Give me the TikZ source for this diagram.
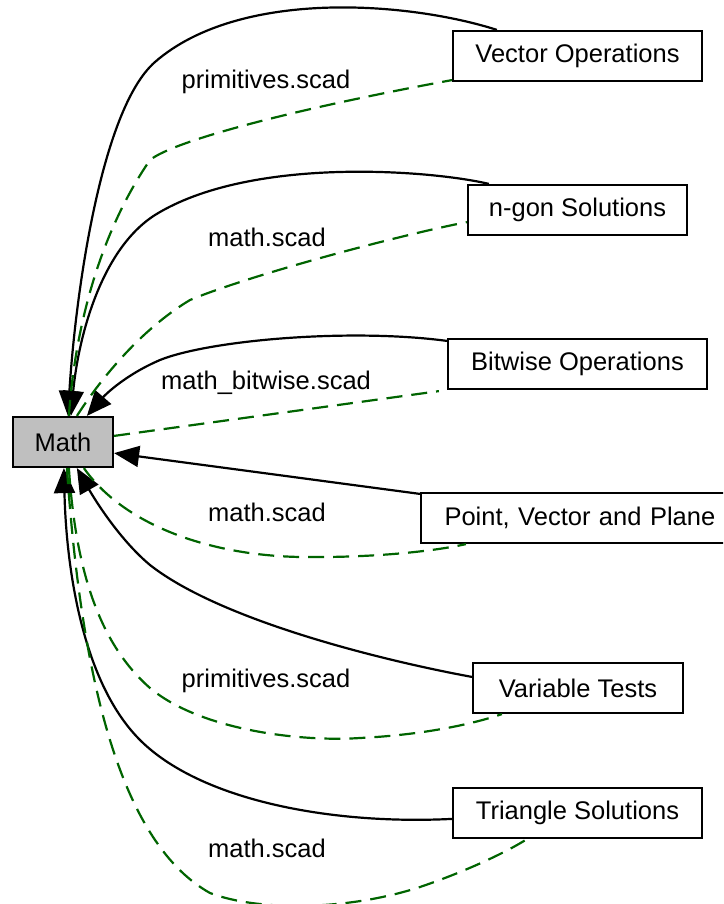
\documentclass[tikz,border=0pt]{standalone}
\usepackage{fontspec}
\setmainfont{Liberation Sans}
\usetikzlibrary{arrows.meta,calc}
\definecolor{dgreen}{HTML}{006400}
\definecolor{mgray}{HTML}{BFBFBF}
\begin{document}
\begin{tikzpicture}[x=0.5pt,y=-0.5pt,
  box/.style={draw, line width=1.1pt, inner sep=0pt, minimum height=25pt, font=\fontsize{12.75}{15}\selectfont, fill=white},
  lbl/.style={inner sep=0pt, font=\fontsize{12.75}{15}\selectfont},
  dep/.style={draw, line width=1.1pt, -{Triangle[width=10.5pt,length=12.5pt]}},
  fileedge/.style={draw=dgreen, line width=1.1pt, dash pattern=on 8pt off 4.5pt}]
\useasboundingbox (0,0) rectangle (723,904);
\clip (0,0) rectangle (723,904);

% nodes
\node[box, fill=mgray, minimum width=50pt] (math) at (63,442) {Math};
\node[box, minimum width=124.5pt] (vec) at (577.5,56) {Vector Operations};
\node[box, minimum width=109.5pt] (ngon) at (577.5,210) {n-gon Solutions};
\node[box, minimum width=129.5pt] (bit) at (577.5,364) {Bitwise Operations};
\node[box, minimum width=152.5pt, text width=150pt, align=left] (pvp) at (573.5,518) {\hspace*{10.5pt}Point, Vector and Plane};
\node[box, minimum width=105pt] (var) at (578,688) {Variable Tests};
\node[box, minimum width=124.5pt] (tri) at (577.5,813) {Triangle Solutions};

% labels
\node[lbl] (l1) at (266,82) {primitives.scad};
\node[lbl] (l2) at (267,237) {math.scad};
\node[lbl] (l3) at (266,383) {math\_bitwise.scad};
\node[lbl] (l4) at (267,512) {math.scad};
\node[lbl] (l5) at (266,681) {primitives.scad};
\node[lbl] (l6) at (267,848) {math.scad};

% endpoints on Math
\coordinate (m1) at ($(math.north west)+(56,0)$);
\coordinate (m2) at ($(math.north west)+(59,0)$);
\coordinate (m3) at ($(math.north west)+(75,0)$);
\coordinate (m4) at ($(math.south east)+(0,-15)$);
\coordinate (m5) at ($(math.south west)+(65,0)$);
\coordinate (m6) at ($(math.south west)+(52,0)$);
\coordinate (n1) at ($(math.north west)+(57,0)$);
\coordinate (n2) at ($(math.north west)+(65,0)$);
\coordinate (n3) at ($(math.north east)+(0,20)$);
\coordinate (n4) at ($(math.south west)+(72,0)$);
\coordinate (n5) at ($(math.south west)+(57,0)$);
\coordinate (n6) at ($(math.south west)+(55,0)$);
% endpoints on the groups
\coordinate (v1) at ($(vec.north west)+(45,0)$);
\coordinate (w1) at ($(vec.south west)+(0,-2)$);
\coordinate (v2) at ($(ngon.north west)+(22,0)$);
\coordinate (w2) at ($(ngon.south west)+(0,-14)$);
\coordinate (v3) at ($(bit.north west)+(0,3)$);
\coordinate (w3) at ($(bit.south west)+(-8,1)$);
\coordinate (v4) at ($(pvp.north west)+(0,2)$);
\coordinate (w4) at ($(pvp.south west)+(46,0)$);
\coordinate (v5) at ($(var.north west)+(0,15)$);
\coordinate (w5) at ($(var.south west)+(30,0)$);
\coordinate (v6) at ($(tri.north west)+(0,32)$);
\coordinate (w6) at ($(tri.south west)+(75,0)$);

% solid dependency edges
\path[dep] (v1) .. controls (410,2) and (240,-12) .. (155,62) .. controls (100,110) and (75,300) .. (m1);
\path[dep] (v2) .. controls (430,170) and (250,156) .. (155,215) .. controls (100,250) and (78,340) .. (m2);
\path[dep] (v3) .. controls (350,328) and (210,340) .. (160,360) .. controls (125,375) and (105,395) .. (m3);
\path[dep] (v4) -- (m4);
\path[dep] (v5) .. controls (380,660) and (220,620) .. (150,565) .. controls (120,540) and (95,500) .. (m5);
\path[dep] (v6) .. controls (330,825) and (200,800) .. (140,740) .. controls (80,680) and (66,560) .. (m6);

% dashed file edges
\path[fileedge] (n1) .. controls (74,340) and (95,240) .. (150,160) .. controls (175,140) and (300,108) .. (w1);
\path[fileedge] (n2) .. controls (100,380) and (140,330) .. (190,300) .. controls (250,275) and (400,235) .. (w2);
\path[fileedge] (n3) -- (w3);
\path[fileedge] (n4) .. controls (120,520) and (200,555) .. (300,557) .. controls (380,558) and (440,550) .. (w4);
\path[fileedge] (n5) .. controls (75,560) and (95,640) .. (150,688) .. controls (200,730) and (300,742) .. (360,738) .. controls (420,735) and (470,725) .. (w5);
\path[fileedge] (n6) .. controls (80,660) and (115,840) .. (210,893) .. controls (260,912) and (350,910) .. (420,887) .. controls (470,870) and (510,850) .. (w6);
\end{tikzpicture}
\end{document}
